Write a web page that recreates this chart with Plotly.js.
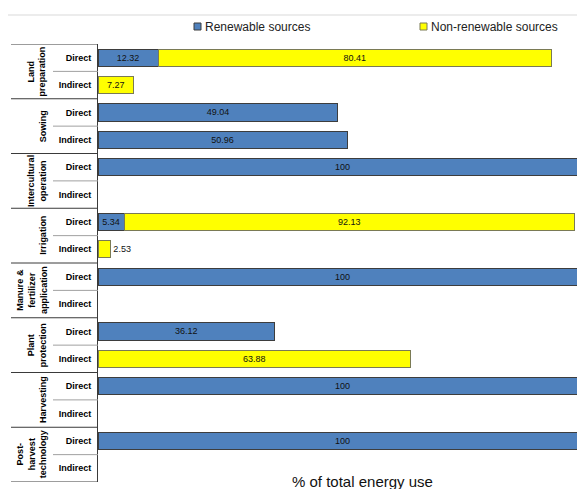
<!DOCTYPE html>
<html>
<head>
<meta charset="utf-8">
<script src="https://cdn.plot.ly/plotly-3.0.1.min.js"></script>
<style>
html, body { margin: 0; padding: 0; overflow: hidden; background: #fff; width: 577px; height: 489px; }
#chart { width: 600px; height: 489px; }
</style>
</head>
<body>
<div id="chart"></div>
<script>
// ---- data ----
const groups = ["Land<br>preparation", "Sowing", "Intercultural<br>operation", "Irrigation",
                "Manure &amp;<br>fertilizer<br>application", "Plant<br>protection", "Harvesting",
                "Post-<br>harvest<br>technology"];
const subLabels = ["Direct", "Indirect"];
const seriesNames = ["Renewable sources", "Non-renewable sources"];
const renewable    = [12.32, null, 49.04, 50.96, 100, null, 5.34, null, 100, null, 36.12, null, 100, null, 100, null];
const nonRenewable = [80.41, 7.27, null, null, null, null, 92.13, 2.53, null, null, null, 63.88, null, null, null, null];
const xTitle = "% of total energy use";

// ---- derived categories ----
const rowKeys = [];
const rowText = [];
groups.forEach((g, gi) => subLabels.forEach(s => { rowKeys.push(g.replace(/<br>/g, " ") + " | " + s); rowText.push(s); }));

// ---- geometry ----
const W = 600, H = 489, ML = 98, MR = 13, MT = 44, MB = 7;
const PW = W - ML - MR, PH = H - MT - MB;
const px2x = px => (px - ML) / PW;
const px2y = py => (H - MB - py) / PH;

const BLUE = "#4F81BD", YELLOW = "#FFFF00";
const FONT = "Liberation Sans, Arial, sans-serif";

const traces = [
  {
    type: "bar", orientation: "h", name: seriesNames[0],
    x: renewable, y: rowKeys,
    marker: { color: BLUE, line: { color: "#3d3d3d", width: 1 } },
    texttemplate: "%{x}", textposition: "inside", insidetextanchor: "middle",
    textangle: 0, constraintext: "none",
    textfont: { family: FONT, size: 9, color: "#111" },
    hoverinfo: "x+y"
  },
  {
    type: "bar", orientation: "h", name: seriesNames[1],
    x: nonRenewable, y: rowKeys,
    marker: { color: YELLOW, line: { color: "#7a7a55", width: 1 } },
    texttemplate: "%{x}", textposition: "auto", insidetextanchor: "middle",
    textangle: 0, constraintext: "none",
    textfont: { family: FONT, size: 9, color: "#111" },
    hoverinfo: "x+y"
  }
];

const shapes = [];
const annotations = [];

// top thin grey line
shapes.push({ type: "line", xref: "paper", yref: "paper", x0: px2x(8), x1: px2x(W), y0: px2y(15), y1: px2y(15),
              line: { color: "#d9d9d9", width: 1 } });

// group separators and labels
groups.forEach((g, gi) => {
  shapes.push({ type: "line", xref: "paper", yref: "y", x0: px2x(11), x1: 0, y0: gi * 2 - 0.5, y1: gi * 2 - 0.5,
                line: { color: "#3a3a3a", width: 1 } });
  shapes.push({ type: "line", xref: "paper", yref: "y", x0: px2x(53), x1: 0, y0: gi * 2 + 0.5, y1: gi * 2 + 0.5,
                line: { color: "#a0a0a0", width: 1 } });
  annotations.push({ xref: "paper", yref: "y", x: px2x(50), y: gi * 2 + 0.5, xanchor: "right", yanchor: "middle",
                     text: g, textangle: -90, showarrow: false, align: "center",
                     font: { family: FONT, size: 9, color: "#000", weight: "bold" } });
});
shapes.push({ type: "line", xref: "paper", yref: "y", x0: px2x(11), x1: 0, y0: groups.length * 2 - 0.5, y1: groups.length * 2 - 0.5,
              line: { color: "#3a3a3a", width: 1 } });

// custom legend
const legendItems = [
  { px: 194, color: BLUE, edge: "#3d3d3d", name: seriesNames[0] },
  { px: 420, color: YELLOW, edge: "#7a7a55", name: seriesNames[1] }
];
legendItems.forEach(it => {
  shapes.push({ type: "rect", xref: "paper", yref: "paper", x0: px2x(it.px), x1: px2x(it.px + 7), y0: px2y(30), y1: px2y(23),
                fillcolor: it.color, line: { color: it.edge, width: 1 } });
  annotations.push({ xref: "paper", yref: "paper", x: px2x(it.px + 9), y: px2y(27), xanchor: "left", yanchor: "middle",
                     text: it.name, showarrow: false, font: { family: FONT, size: 12, color: "#222" } });
});

// x axis title
annotations.push({ xref: "paper", yref: "paper", x: px2x(362), y: px2y(481), xanchor: "center", yanchor: "middle",
                   text: xTitle, showarrow: false, font: { family: FONT, size: 15, color: "#111" } });

const layout = {
  width: W, height: H,
  margin: { l: ML, r: MR, t: MT, b: MB, pad: 0 },
  paper_bgcolor: "#fff", plot_bgcolor: "#fff",
  barmode: "stack", bargap: 0.37,
  showlegend: false,
  font: { family: FONT, color: "#000" },
  xaxis: { range: [0, 100], showgrid: false, zeroline: false, showticklabels: false, showline: false, ticks: "", fixedrange: true },
  yaxis: { type: "category", categoryorder: "array", categoryarray: rowKeys, range: [rowKeys.length - 0.5, -0.5],
           tickmode: "array", tickvals: rowKeys, ticktext: rowText, ticks: "", ticklabelstandoff: 4,
           tickfont: { family: FONT, size: 9, color: "#000", weight: "bold" },
           showgrid: false, zeroline: false, showline: true, linecolor: "#3a3a3a", linewidth: 1, fixedrange: true },
  shapes: shapes,
  annotations: annotations
};

Plotly.newPlot("chart", traces, layout, { displayModeBar: false, staticPlot: true, responsive: false });
</script>
</body>
</html>
